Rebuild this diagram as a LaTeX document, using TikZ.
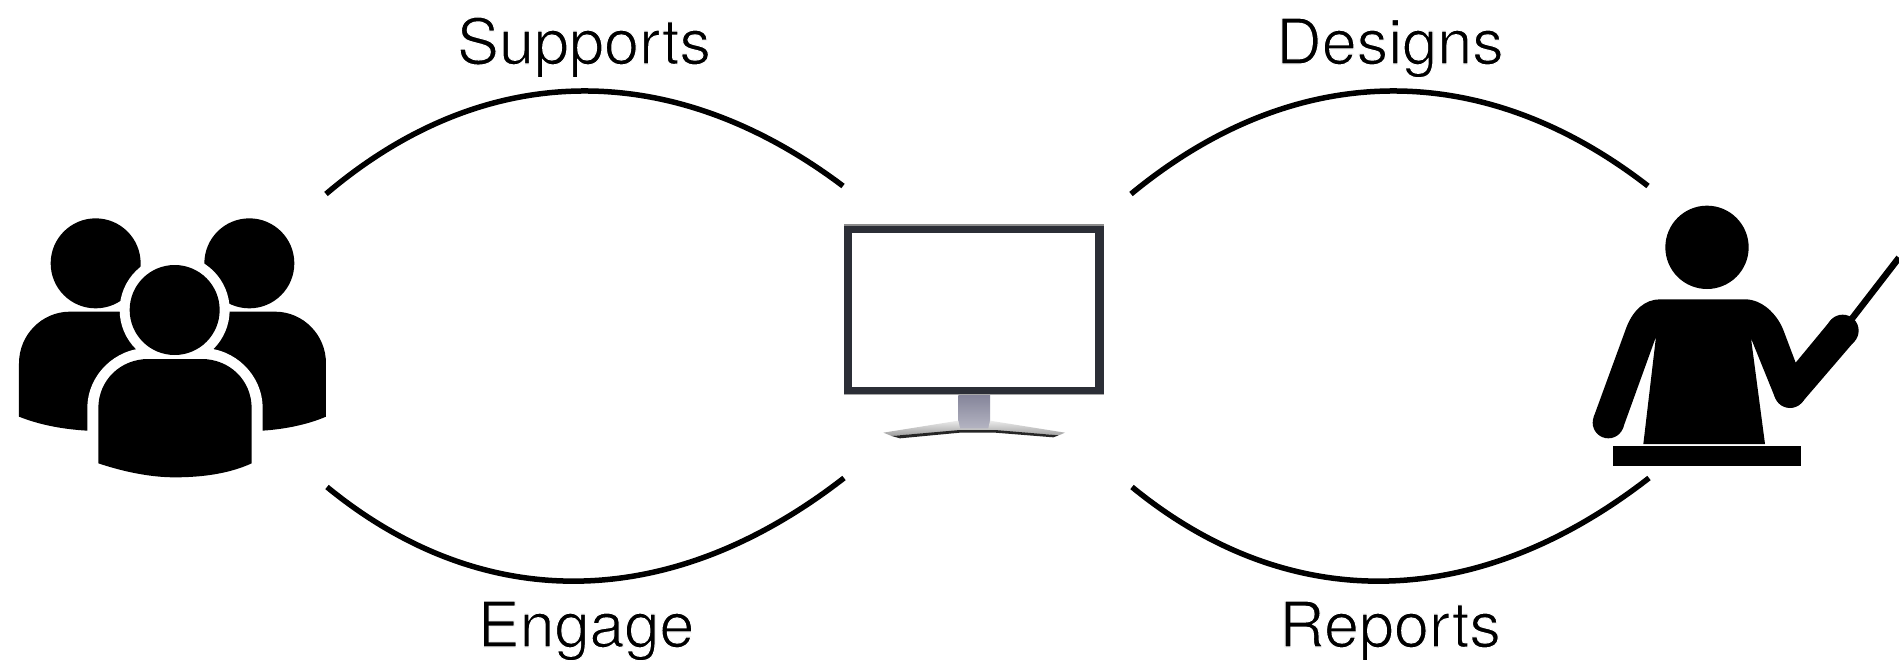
\documentclass[tikz,border=0pt]{standalone}
\usepackage{fontspec}
\setmainfont{TeX Gyre Heros}
\definecolor{frame}{HTML}{2B2E36}
\definecolor{standtop}{HTML}{85859A}
\definecolor{standbot}{HTML}{B4B4C2}
\newcommand{\thintext}[1]{\special{pdf:code q 2 Tr 1 1 1 RG 1.1 w}#1\special{pdf:code Q}}
\tikzset{
  x=1pt,y=-1pt,
  link/.style={line width=5.5pt,black},
  lbl/.style={anchor=base,inner sep=0pt,font=\fontsize{63}{70}\selectfont,text=black},
  ink/.style={fill=black,draw=none}
}
\begin{document}
\begin{tikzpicture}
\useasboundingbox[fill=white] (0,0) rectangle (1899,664);
% ----- people icon (coordinates of a 3x crop)
\begin{scope}[shift={(0,200)},scale=1/3]
  \fill[ink] (287,190) circle[radius=135];
  \fill[ink] (748,190) circle[radius=135];
  \fill[ink] (57,650) -- (57,490) .. controls (57,405) and (125,335) .. (210,335) -- (500,335) -- (500,700) -- (262,692) .. controls (190,688) and (120,675) .. (57,650) -- cycle;
  \fill[ink] (978,650) -- (978,490) .. controls (978,405) and (910,335) .. (825,335) -- (530,335) -- (530,700) -- (787,692) .. controls (850,688) and (920,675) .. (978,650) -- cycle;
  \fill[white] (524,330) circle[radius=165];
  \fill[white] (262,830) -- (262,625) .. controls (262,525) and (345,444) .. (445,444) -- (605,444) .. controls (705,444) and (788,525) .. (788,625) -- (788,830) -- cycle;
  \fill[ink] (524,330) circle[radius=135];
  \fill[ink] (295,790) -- (295,625) .. controls (295,540) and (362,477) .. (445,477) -- (605,477) .. controls (688,477) and (755,540) .. (755,625) -- (755,790) .. controls (690,820) and (610,832) .. (525,832) .. controls (450,832) and (370,815) .. (295,790) -- cycle;
\end{scope}
% ----- monitor icon
\begin{scope}[shift={(820,210)},scale=1/3]
  \fill[frame] (72,43) rectangle (852,555);
  \fill[black!45] (72,43) rectangle (852,47);
  \fill[black!35] (72,552) rectangle (852,556);
  \fill[white] (97,68) rectangle (826,530);
  \shade[top color=standtop,bottom color=standbot] (415,556) rectangle (510,655);
  \shade[top color=black!8,bottom color=black!38] (190,668) -- (415,632) -- (420,655) -- (505,655) -- (510,632) -- (735,668) -- (716,676) -- (525,662) -- (420,662) -- (215,678) -- cycle;
  \fill[black!85] (215,678) -- (420,660) -- (525,660) -- (716,676) -- (700,682) -- (525,668) -- (420,668) -- (240,685) -- cycle;
\end{scope}
% ----- teacher icon
\begin{scope}[shift={(1570,190)},scale=1/3]
  \fill[ink] (411,172) circle[radius=125];
  \draw[black,line width=6.5pt] (835,400) -- (987,203);
  \fill[ink] (115,698) circle[radius=47];
  \fill[ink] (818,422) circle[radius=48];
  \fill[ink] (660,606) circle[radius=48];
  \fill[ink] (270,328) -- (525,328) .. controls (575,328) and (620,370) .. (640,420) -- (677,518) -- (782,391) -- (854,453) -- (696,637) -- (660,640) -- (616,625) -- (543,445) -- (585,762) -- (220,762) -- (258,440) -- (159,714) -- (71,681) -- (170,410) .. controls (190,360) and (225,328) .. (270,328) -- cycle;
  \fill[ink] (130,767) rectangle (693,828);
\end{scope}
% ----- connector ends
\coordinate (supA) at (326,194);
\coordinate (supB) at (843,186);
\coordinate (engA) at (327,487);
\coordinate (engB) at (844,478);
\coordinate (desA) at (1131,194);
\coordinate (desB) at (1648,186);
\coordinate (repA) at (1132,487);
\coordinate (repB) at (1649,478);
\draw[link] (supA) .. controls +(160,-136) and +(-170,-128) .. (supB);
\draw[link] (engA) .. controls +(155,127) and +(-175,136) .. (engB);
\draw[link] (desA) .. controls +(165,-136) and +(-165,-128) .. (desB);
\draw[link] (repA) .. controls +(155,127) and +(-175,136) .. (repB);
% ----- labels
\node[lbl] (supports) at (584,64) {\thintext{Supports}};
\node[lbl] (engage) at (586,647) {\thintext{Engage}};
\node[lbl] (designs) at (1390,64) {\thintext{Designs}};
\node[lbl] (reports) at (1390,647) {\thintext{Reports}};
\end{tikzpicture}
\end{document}
